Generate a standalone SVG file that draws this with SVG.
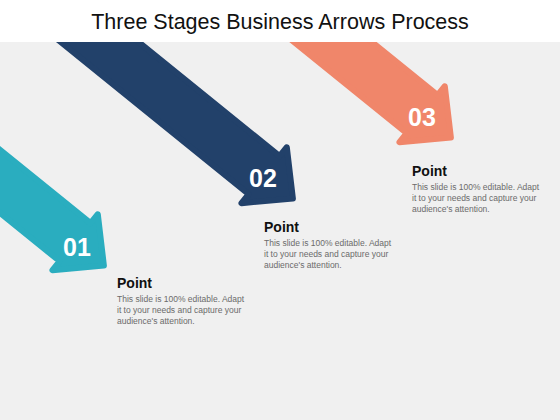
<svg xmlns="http://www.w3.org/2000/svg" width="560" height="420" viewBox="0 0 560 420">
  <defs>
    <path id="arrowShape" d="M-4,0 L-41,-36 L-41,-24.5 L-600,-24.5 L-600,24.5 L-41,24.5 L-41,36 Z" stroke-width="6" stroke-linejoin="round"/>
  </defs>
  <style>
    .num { font-family: "Liberation Sans", Arial, sans-serif; font-weight: bold; font-size: 25px; fill: #ffffff; text-anchor: middle; }
    .head { font-family: "Liberation Sans", Arial, sans-serif; font-weight: bold; font-size: 14px; fill: #111111; }
    .body { font-family: "Liberation Sans", Arial, sans-serif; font-size: 8.5px; fill: #6b6b6b; }
    .title { font-family: "Liberation Sans", Arial, sans-serif; font-size: 21.5px; fill: #111111; text-anchor: middle; }
  </style>
  <rect x="0" y="0" width="560" height="420" fill="#f0f0f0"/>

  <g id="stage1">
    <use href="#arrowShape" transform="translate(107,268) rotate(39)" fill="#2aadbf" stroke="#2aadbf"/>
    <text class="num" x="77" y="256">01</text>
  </g>
  <g id="stage2">
    <use href="#arrowShape" transform="translate(296,201) rotate(39)" fill="#22416a" stroke="#22416a"/>
    <text class="num" x="263" y="187">02</text>
  </g>
  <g id="stage3">
    <use href="#arrowShape" transform="translate(454,140) rotate(39)" fill="#f0866a" stroke="#f0866a"/>
    <text class="num" x="422" y="126">03</text>
  </g>

  <rect x="0" y="0" width="560" height="42" fill="#ffffff"/>
  <text class="title" x="280" y="29">Three Stages Business Arrows Process</text>

  <g id="point1">
    <text class="head" x="117" y="288">Point</text>
    <text class="body" x="117" y="302">This slide is 100% editable.  Adapt</text>
    <text class="body" x="117" y="313">it to your needs and capture your</text>
    <text class="body" x="117" y="324">audience's attention.</text>
  </g>
  <g id="point2">
    <text class="head" x="264" y="232">Point</text>
    <text class="body" x="264" y="246">This slide is 100% editable.  Adapt</text>
    <text class="body" x="264" y="257">it to your needs and capture your</text>
    <text class="body" x="264" y="268">audience's attention.</text>
  </g>
  <g id="point3">
    <text class="head" x="412" y="176">Point</text>
    <text class="body" x="412" y="190">This slide is 100% editable.  Adapt</text>
    <text class="body" x="412" y="201">it to your needs and capture your</text>
    <text class="body" x="412" y="212">audience's attention.</text>
  </g>
  <g id="connectors"/>
</svg>
